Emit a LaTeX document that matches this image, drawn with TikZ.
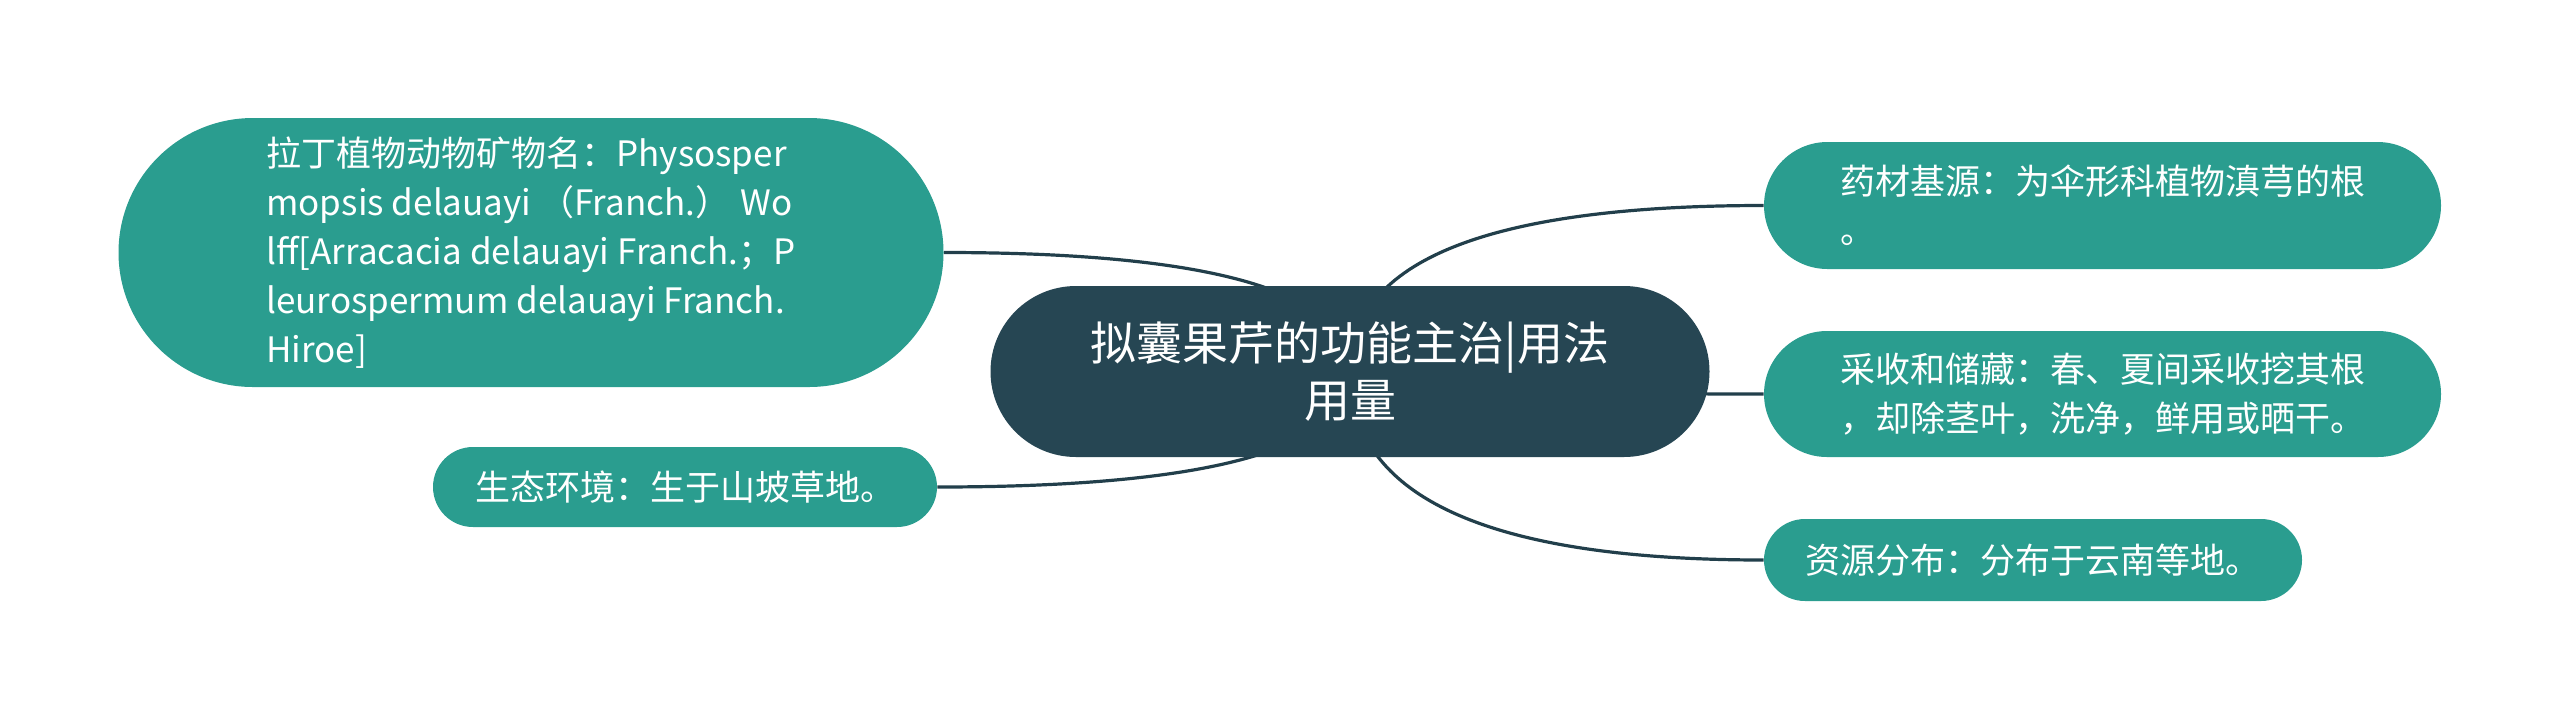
\documentclass[tikz,border=0pt]{standalone}
\usepackage{fontspec}
\setmainfont{Noto Sans CJK SC}
\usetikzlibrary{shapes.misc,calc,backgrounds}
\definecolor{deepslate}{HTML}{264653}
\definecolor{seateal}{HTML}{2A9D8F}
\tikzset{
	root/.style 2 args={rounded rectangle,fill=deepslate,text=white,align=center,inner sep=0pt,minimum width=#1,minimum height=#2,font=\fontsize{23pt}{28.5pt}\selectfont},
	leaf/.style 2 args={rounded rectangle,fill=seateal,text=white,align=left,inner sep=0pt,minimum width=#1,minimum height=#2,font=\fontsize{17.5pt}{24.5pt}\selectfont},
	link/.style={draw=deepslate!90!black,line width=1.6pt}
}
\newcommand\branch[2]{\draw[link] (#1.center) .. controls ($(#1.center)!2/3!(#1.center|-#2)$) and ($(#2)!2/3!(#1.center|-#2)$) .. (#2);}

\begin{document}
\begin{tikzpicture}[x=0.5pt,y=-0.5pt]
	\useasboundingbox (0,0) rectangle (2560,719);

	\node [root={359.5pt}{85.5pt}] (main) at (1350,371.5) {拟囊果芹的功能主治|用法\\用量};

	\node [leaf={412.5pt}{134.5pt}] (latin) at (531,252.5) {拉丁植物动物矿物名：Physosper\\mopsis delauayi （Franch.） Wo\\lff[Arracacia delauayi Franch.；P\\leurospermum delauayi Franch.\\Hiroe]};
	\node [leaf={252pt}{40pt}] (habitat) at (685,487) {生态环境：生于山坡草地。};

	\node [leaf={338.5pt}{63.5pt}] (source) at (2102.5,205.5) {药材基源：为伞形科植物滇芎的根\\。};
	\node [leaf={338.5pt}{63pt}] (harvest) at (2102.5,394) {采收和储藏：春、夏间采收挖其根\\，却除茎叶，洗净，鲜用或晒干。};
	\node [leaf={269pt}{41pt}] (distrib) at (2033,560) {资源分布：分布于云南等地。};

	\begin{scope}[on background layer]
		\branch{main}{latin.east}
		\branch{main}{habitat.east}
		\branch{main}{source.west}
		\branch{main}{harvest.west}
		\branch{main}{distrib.west}
	\end{scope}
\end{tikzpicture}
\end{document}
